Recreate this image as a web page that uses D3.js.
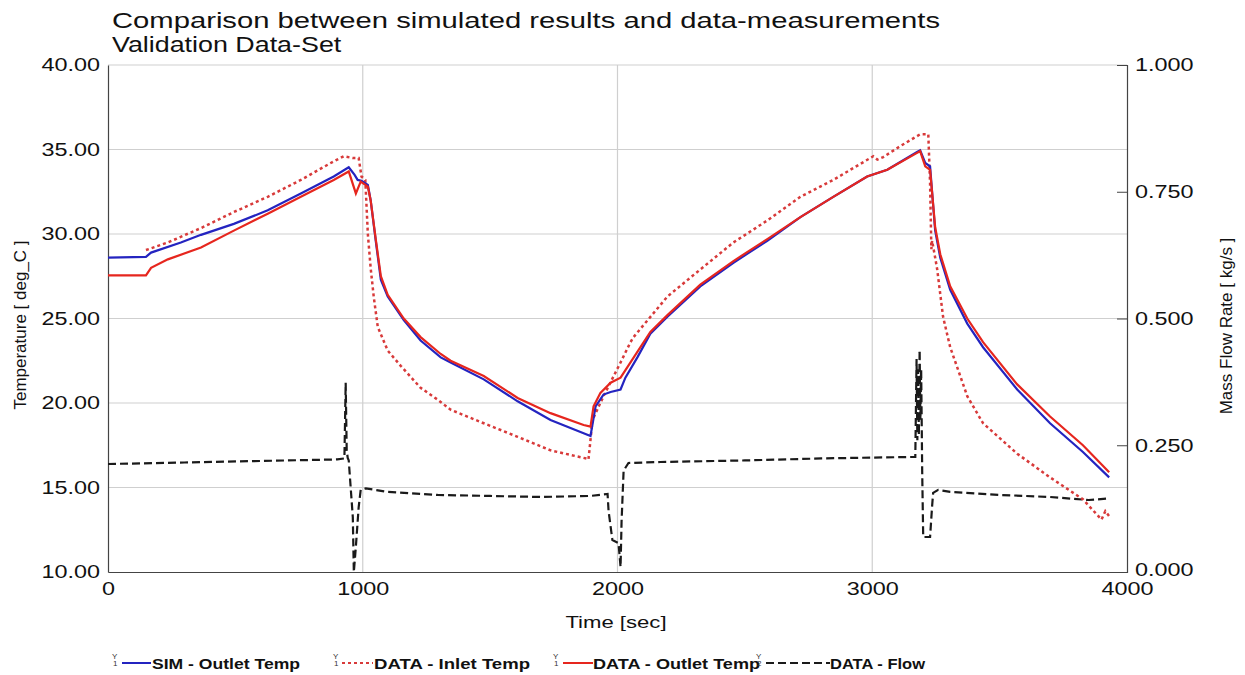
<!DOCTYPE html>
<html>
<head>
<meta charset="utf-8">
<script src="https://cdn.jsdelivr.net/npm/d3@7"></script>
<style>
  html, body { margin: 0; padding: 0; background: #ffffff; }
  svg { display: block; font-family: "Liberation Sans", Arial, sans-serif; }
</style>
</head>
<body>
<svg id="chart" width="1245" height="675"></svg>
<script>
// ---------------- DATA ----------------
const titleLines = ["Comparison between simulated results and data-measurements", "Validation Data-Set"];
const xTicks = [0, 1000, 2000, 3000, 4000];
const tempTicks = [10, 15, 20, 25, 30, 35, 40];
const flowTicks = [0, 0.25, 0.5, 0.75, 1.0];
const seriesNames = ["SIM - Outlet Temp", "DATA - Inlet Temp", "DATA - Outlet Temp", "DATA - Flow"];

const simTime = [0, 149, 169, 286, 365, 494, 627, 757, 886, 945, 968, 980, 995, 1020, 1031, 1051, 1071, 1098, 1161, 1227, 1306, 1345, 1475, 1608, 1737, 1894, 1914, 1945, 1973, 2012, 2031, 2078, 2129, 2196, 2325, 2455, 2588, 2718, 2847, 2980, 3059, 3176, 3188, 3208, 3227, 3247, 3267, 3306, 3373, 3435, 3569, 3698, 3827, 3930];
const simTemp = [28.6, 28.65, 28.9, 29.5, 29.95, 30.6, 31.4, 32.4, 33.4, 33.95, 33.5, 33.2, 33.15, 32.9, 32.0, 29.6, 27.3, 26.3, 24.9, 23.7, 22.7, 22.4, 21.4, 20.1, 19.0, 18.05, 19.8, 20.5, 20.65, 20.8, 21.5, 22.7, 24.1, 25.1, 26.9, 28.3, 29.6, 31.0, 32.2, 33.4, 33.8, 34.85, 34.95, 34.2, 34.0, 30.2, 28.6, 26.7, 24.7, 23.3, 20.8, 18.8, 17.1, 15.6];

const inletTime = [149, 235, 365, 494, 627, 757, 886, 925, 960, 984, 995, 1010, 1020, 1031, 1043, 1059, 1098, 1149, 1227, 1294, 1345, 1475, 1608, 1737, 1882, 1886, 1902, 1945, 2012, 2051, 2063, 2196, 2325, 2455, 2588, 2718, 2847, 3004, 3020, 3043, 3110, 3188, 3220, 3227, 3232, 3235, 3247, 3255, 3278, 3306, 3373, 3435, 3569, 3698, 3827, 3900, 3915, 3930];
const inletTemp = [29.05, 29.5, 30.35, 31.3, 32.2, 33.2, 34.3, 34.6, 34.5, 34.5, 33.4, 33.2, 30.0, 28.0, 26.3, 24.5, 23.1, 22.2, 20.9, 20.2, 19.6, 18.8, 18.0, 17.2, 16.7, 16.65, 19.0, 20.4, 22.4, 23.6, 23.9, 26.3, 27.9, 29.5, 30.8, 32.2, 33.2, 34.6, 34.4, 34.55, 35.2, 35.9, 35.9, 33.0, 29.1, 29.6, 28.6, 27.9, 25.1, 23.3, 20.4, 18.8, 17.0, 15.6, 14.3, 13.1, 13.6, 13.3];

const outletTime = [0, 149, 169, 235, 365, 494, 627, 757, 886, 945, 973, 992, 1020, 1031, 1051, 1071, 1098, 1161, 1227, 1306, 1345, 1475, 1608, 1737, 1867, 1894, 1906, 1933, 1973, 2012, 2051, 2129, 2196, 2325, 2455, 2588, 2718, 2847, 2980, 3059, 3176, 3188, 3208, 3227, 3247, 3267, 3306, 3373, 3435, 3569, 3698, 3827, 3930];
const outletTemp = [27.55, 27.55, 28.0, 28.5, 29.2, 30.2, 31.2, 32.2, 33.2, 33.7, 32.4, 33.1, 32.8, 32.0, 29.7, 27.5, 26.4, 25.0, 23.9, 22.9, 22.5, 21.6, 20.3, 19.4, 18.7, 18.6, 19.8, 20.6, 21.2, 21.5, 22.4, 24.2, 25.2, 27.0, 28.4, 29.7, 31.0, 32.2, 33.4, 33.8, 34.8, 34.9, 34.0, 33.8, 30.4, 28.8, 26.9, 25.0, 23.6, 21.1, 19.2, 17.5, 15.9];

const flowTime = [0, 300, 600, 900, 928, 933, 937, 941, 945, 961, 965, 973, 984, 992, 1012, 1098, 1294, 1500, 1700, 1894, 1961, 1965, 1980, 2004, 2012, 2016, 2024, 2043, 2169, 2500, 2800, 3169, 3174, 3177, 3180, 3183, 3186, 3189, 3192, 3196, 3200, 3227, 3235, 3239, 3259, 3306, 3500, 3698, 3850, 3930];
const flowRate = [0.213, 0.216, 0.219, 0.222, 0.224, 0.373, 0.24, 0.225, 0.22, 0.108, 0.0, 0.05, 0.128, 0.162, 0.165, 0.158, 0.152, 0.150, 0.148, 0.150, 0.154, 0.12, 0.063, 0.057, 0.01, 0.1, 0.20, 0.215, 0.217, 0.220, 0.224, 0.227, 0.42, 0.26, 0.40, 0.27, 0.438, 0.30, 0.40, 0.2, 0.069, 0.069, 0.13, 0.156, 0.162, 0.158, 0.152, 0.148, 0.142, 0.145];

// ---------------- LAYOUT ----------------
const svg = d3.select("#chart");
const pLeft = 108, pRight = 1127, pTop = 65, pBottom = 572;
const STRETCH = 1.3;

const x = d3.scaleLinear().domain([0, 4000]).range([pLeft, pRight]);
const yT = d3.scaleLinear().domain([10, 40]).range([pBottom, pTop]);
const yF = d3.scaleLinear().domain([0, 1]).range([pBottom, pTop]);

function stretch(sel, factor) {
  sel.each(function () {
    const len = this.getComputedTextLength();
    d3.select(this).attr("textLength", len * factor).attr("lengthAdjust", "spacingAndGlyphs");
  });
}

// gridlines
const grid = svg.append("g");
grid.selectAll("line.h").data(tempTicks.filter(d => d > 10)).join("line")
  .attr("x1", pLeft).attr("x2", pRight)
  .attr("y1", d => yT(d)).attr("y2", d => yT(d))
  .attr("stroke", "#cfcfcf").attr("stroke-width", 1.2);
grid.selectAll("line.v").data(xTicks.filter(d => d > 0 && d < 4000)).join("line")
  .attr("x1", d => x(d)).attr("x2", d => x(d))
  .attr("y1", pTop).attr("y2", pBottom)
  .attr("stroke", "#cfcfcf").attr("stroke-width", 1.2);

// axes
const axL = svg.append("g").attr("transform", `translate(${pLeft},0)`)
  .call(d3.axisLeft(yT).tickValues(tempTicks).tickSize(0).tickPadding(8).tickFormat(d3.format(".2f")));
const axR = svg.append("g").attr("transform", `translate(${pRight},0)`)
  .call(d3.axisRight(yF).tickValues(flowTicks).tickSize(-10).tickPadding(8).tickFormat(d3.format(".3f")));
const axB = svg.append("g").attr("transform", `translate(0,${pBottom})`)
  .call(d3.axisBottom(x).tickValues(xTicks).tickSize(0).tickPadding(12).tickFormat(d3.format("d")));

[axL, axR, axB].forEach(a => {
  a.select(".domain").attr("stroke", "#444").attr("stroke-width", 1.2);
  a.selectAll(".tick line").attr("stroke", "#444");
  a.selectAll("text").attr("font-size", 18).attr("fill", "#111").attr("font-family", "Liberation Sans, Arial, sans-serif");
  stretch(a.selectAll("text"), STRETCH);
});
axR.selectAll(".tick").filter(d => d === 0).select("text").attr("dy", "0.2em");
axB.selectAll(".tick text").attr("dy", "0.6em");

// lines
svg.append("clipPath").attr("id", "plotclip").append("rect")
  .attr("x", pLeft).attr("y", pTop - 2).attr("width", pRight - pLeft).attr("height", pBottom - pTop + 4);
const plot = svg.append("g").attr("clip-path", "url(#plotclip)");

function series(times, vals, yScale) { return times.map((t, i) => [x(t), yScale(vals[i])]); }
const lineGen = d3.line().x(d => d[0]).y(d => d[1]);

plot.append("path").attr("d", lineGen(series(flowTime, flowRate, yF)))
  .attr("fill", "none").attr("stroke", "#1a1a1a").attr("stroke-width", 2.2).attr("stroke-dasharray", "8,4");
plot.append("path").attr("d", lineGen(series(inletTime, inletTemp, yT)))
  .attr("fill", "none").attr("stroke", "#d83a3a").attr("stroke-width", 2.5).attr("stroke-dasharray", "3,3");
plot.append("path").attr("d", lineGen(series(simTime, simTemp, yT)))
  .attr("fill", "none").attr("stroke", "#2424c0").attr("stroke-width", 2.2);
plot.append("path").attr("d", lineGen(series(outletTime, outletTemp, yT)))
  .attr("fill", "none").attr("stroke", "#e6261e").attr("stroke-width", 2.2);

// titles
svg.append("text").attr("x", 112).attr("y", 28).attr("font-size", 22).attr("fill", "#111").text(titleLines[0])
  .attr("textLength", 828).attr("lengthAdjust", "spacingAndGlyphs");
const t2 = svg.append("text").attr("x", 112).attr("y", 52).attr("font-size", 22).attr("fill", "#111").text(titleLines[1]);
stretch(t2, 1.22);

// axis titles
svg.append("text").attr("transform", `translate(26,325) rotate(-90)`).attr("text-anchor", "middle")
  .attr("font-size", 17).attr("fill", "#111").text("Temperature [ deg_C ]");
svg.append("text").attr("transform", `translate(1232,326) rotate(-90)`).attr("text-anchor", "middle")
  .attr("font-size", 17).attr("fill", "#111").text("Mass Flow Rate [ kg/s ]");
const xt = svg.append("text").attr("x", 616).attr("y", 628).attr("text-anchor", "middle")
  .attr("font-size", 17).attr("fill", "#111").text("Time [sec]");
stretch(xt, STRETCH);

// legend
const legendItems = [
  { name: seriesNames[0], icon: 112, l0: 122, l1: 151, tx: 152, tw: 148, stroke: "#2424c0", dash: null, sub: "1" },
  { name: seriesNames[1], icon: 333, l0: 342, l1: 373, tx: 374, tw: 156, stroke: "#d83a3a", dash: "3,3", sub: "1" },
  { name: seriesNames[2], icon: 553, l0: 563, l1: 593, tx: 593, tw: 167, stroke: "#e6261e", dash: null, sub: "1" },
  { name: seriesNames[3], icon: 756, l0: 766, l1: 830, tx: 830, tw: 95, stroke: "#1a1a1a", dash: "8,4", sub: "2" }
];
const lg = svg.append("g");
const ly = 663;
legendItems.forEach(it => {
  lg.append("text").attr("x", it.icon).attr("y", ly - 4).attr("font-size", 8).attr("fill", "#333").text("Y");
  lg.append("text").attr("x", it.icon + 1).attr("y", ly + 3).attr("font-size", 8).attr("fill", "#333").text(it.sub);
  lg.append("line").attr("x1", it.l0).attr("x2", it.l1).attr("y1", ly).attr("y2", ly)
    .attr("stroke", it.stroke).attr("stroke-width", 2).attr("stroke-dasharray", it.dash);
  lg.append("text").attr("x", it.tx).attr("y", ly + 5.5).attr("font-size", 15).attr("font-weight", "bold").attr("fill", "#111")
    .text(it.name).attr("textLength", it.tw).attr("lengthAdjust", "spacingAndGlyphs");
});
</script>
</body>
</html>
